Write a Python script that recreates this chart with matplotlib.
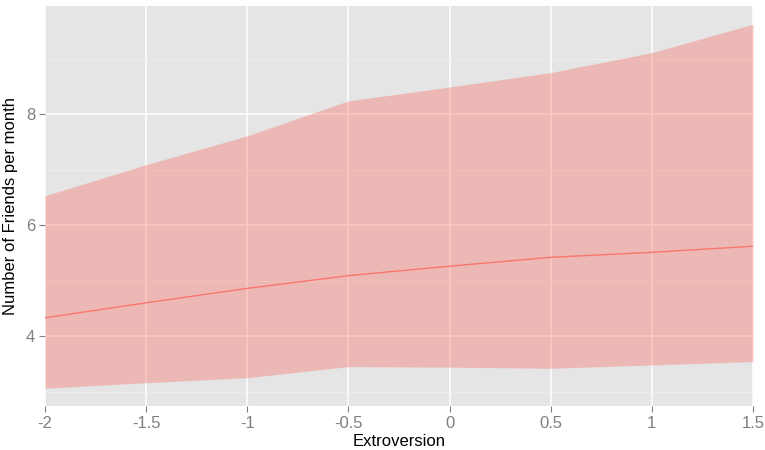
import matplotlib
matplotlib.use("Agg")
import matplotlib.pyplot as plt
from matplotlib.ticker import FixedLocator

extroversion = [-2.0, -1.5, -1.0, -0.5, 0.0, 0.5, 1.0, 1.5]
fit = [4.33, 4.60, 4.86, 5.09, 5.26, 5.42, 5.51, 5.62]
upper = [6.53, 7.09, 7.61, 8.24, 8.49, 8.75, 9.11, 9.62]
lower = [3.06, 3.16, 3.25, 3.45, 3.44, 3.42, 3.48, 3.54]

x_ticks = [-2, -1.5, -1, -0.5, 0, 0.5, 1, 1.5]
x_labels = ["-2", "-1.5", "-1", "-0.5", "0", "0.5", "1", "1.5"]
y_ticks = [4, 6, 8]
y_labels = ["4", "6", "8"]
y_minor = [3, 5, 7, 9]

plt.rcParams['font.family'] = ['Liberation Sans', 'DejaVu Sans']

fig = plt.figure(figsize=(7.65, 4.5), dpi=100)
ax = fig.add_axes([45/765, 1 - 406/450, (753 - 45)/765, (406 - 6)/450])
ax.set_facecolor("#E5E5E5")
for s in ax.spines.values():
    s.set_visible(False)

ax.set_xlim(-2, 1.5)
ax.set_ylim(2.74, 9.95)

ax.xaxis.set_major_locator(FixedLocator(x_ticks))
ax.set_xticklabels(x_labels)
ax.yaxis.set_major_locator(FixedLocator(y_ticks))
ax.set_yticklabels(y_labels)
ax.yaxis.set_minor_locator(FixedLocator(y_minor))

ax.grid(True, which="major", color="white", linewidth=1.1)
ax.grid(True, which="minor", axis="y", color="#F2F2F2", linewidth=0.5)
ax.set_axisbelow(True)

ax.tick_params(axis="both", which="major", length=4, width=0.8, color="#7F7F7F",
               labelcolor="#7F7F7F", labelsize=12, pad=3)
ax.tick_params(axis="both", which="minor", length=0)

ax.fill_between(extroversion, lower, upper, color="#F8766D", alpha=0.4, linewidth=0, zorder=2)
ax.plot(extroversion, fit, color="#F8766D", linewidth=1.0, zorder=3)

ax.set_xlabel("Extroversion", fontsize=12, color="black", labelpad=2)
ax.set_ylabel("Number of Friends per month", fontsize=12, color="black", labelpad=6)

fig.savefig("out.png", dpi=100, facecolor="white")
